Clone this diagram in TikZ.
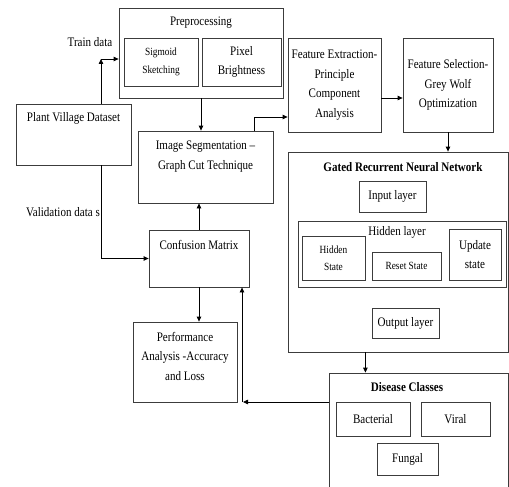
\documentclass[tikz,border=0pt]{standalone}
\usepackage{fontspec}
\setmainfont{Liberation Serif}[FakeStretch=0.85]
\usepackage{tikz}
\usetikzlibrary{positioning,arrows.meta,calc}
\definecolor{edgegray}{RGB}{60,60,60}
\tikzset{
  box/.style={draw=edgegray,line width=0.8pt,rectangle,inner sep=0pt,align=center,
    font=\fontsize{13}{19.5}\selectfont},
  smallbox/.style={box,font=\fontsize{11}{17.5}\selectfont},
  txt/.style={inner sep=0pt,align=center,font=\fontsize{13}{19.5}\selectfont},
  ttl/.style={txt,font=\fontsize{13}{19.5}\selectfont\bfseries},
  arr/.style={draw=black,line width=0.8pt,-{Triangle[length=5pt,width=4.5pt]}},
  ln/.style={draw=black,line width=0.8pt}
}

\begin{document}
\begin{tikzpicture}[x=1pt,y=-1pt]
\useasboundingbox (0,0) rectangle (509,487);
\clip (0,0) rectangle (509,487);
% Dataset and preprocessing
\node[box,minimum width=115,minimum height=61] (pv) at (73.5,134.5) {};
\node[txt] (pvtxt) at (73.5,118) {Plant Village Dataset};
\node[box,minimum width=164,minimum height=90] (pre) at (201,53) {};
\node[txt] (pretxt) at (201,23) {Preprocessing};
\node[smallbox,minimum width=74,minimum height=48] (sig) at (161,62) {Sigmoid\\Sketching};
\node[box,minimum width=79,minimum height=48] (pix) at (241.5,62) {Pixel\\Brightness};
% Segmentation and features
\node[box,minimum width=135,minimum height=72] (seg) at (205.5,167) {};
\node[txt] (segtxt) at (205.5,156.5) {Image Segmentation --\\Graph Cut Technique};
\node[box,minimum width=93,minimum height=94] (fe) at (334.5,85) {Feature Extraction-\\Principle\\Component\\Analysis};
\node[box,minimum width=90,minimum height=94] (fs) at (448,85) {Feature Selection-\\Grey Wolf\\Optimization};
% Gated recurrent network
\node[box,minimum width=220,minimum height=200] (grnn) at (398,252) {};
\node[ttl] (grnntxt) at (403,167) {Gated Recurrent Neural Network};
\node[box,minimum width=67,minimum height=31] (inp) at (392.5,196.5) {Input layer};
\node[box,minimum width=208,minimum height=66] (hid) at (402,254) {};
\node[txt] (hidtxt) at (397,232) {Hidden layer};
\node[smallbox,minimum width=63,minimum height=44] (hs) at (333.5,258) {Hidden\\State};
\node[smallbox,minimum width=69,minimum height=28] (rs) at (406.5,266) {Reset State};
\node[box,minimum width=52,minimum height=51] (us) at (475,254.5) {Update\\state};
\node[box,minimum width=67,minimum height=30] (out) at (405.5,323) {Output layer};
% Classes
\node[box,minimum width=179,minimum height=119] (dc) at (418.5,432.5) {};
\node[ttl] (dctxt) at (407,387) {Disease Classes};
\node[box,minimum width=74,minimum height=34] (bac) at (373,419) {Bacterial};
\node[box,minimum width=69,minimum height=34] (vir) at (455.5,419) {Viral};
\node[box,minimum width=61,minimum height=32] (fun) at (407.5,459) {Fungal};
% Evaluation
\node[box,minimum width=100,minimum height=57] (cm) at (199,258.5) {};
\node[txt] (cmtxt) at (199,245) {Confusion Matrix};
\node[box,minimum width=104,minimum height=80] (perf) at (185,362) {};
\node[txt] (perftxt) at (185,356) {Performance\\Analysis -Accuracy\\and Loss};
% Labels
\node[txt] (train) at (90,42) {Train data};
\node[txt,anchor=east] (valid) at (100,212) {Validation data s};
% Connectors
\coordinate (tr) at (101,59);
\coordinate (fb) at (243,402);
\coordinate (sg) at (254,117);
\draw[arr] (tr |- pv.north) -- (tr);
\draw[arr] (tr) -- (tr -| pre.west);
\draw[arr] (tr |- pv.south) |- (cm.west);
\draw[arr] (pre.south) -- (pre.south |- seg.north);
\draw[ln] (sg |- seg.north) -- (sg);
\draw[arr] (sg) -- (sg -| fe.west);
\draw[arr] ([yshift=-13pt]fe.east) -- ([yshift=-13pt]fe.east -| fs.west);
\draw[arr] (fs.south) -- (fs.south |- grnn.north);
\draw[arr] (hs.east |- grnn.south) -- (hs.east |- dc.north);
\draw[arr] (fb -| dc.west) -- (fb);
\draw[arr] ([xshift=-1pt]fb) -- ([xshift=-1pt]fb |- cm.south);
\draw[arr] (cm.north) -- (cm.north |- seg.south);
\draw[arr] (cm.south) -- (cm.south |- perf.north);
\end{tikzpicture}
\end{document}
